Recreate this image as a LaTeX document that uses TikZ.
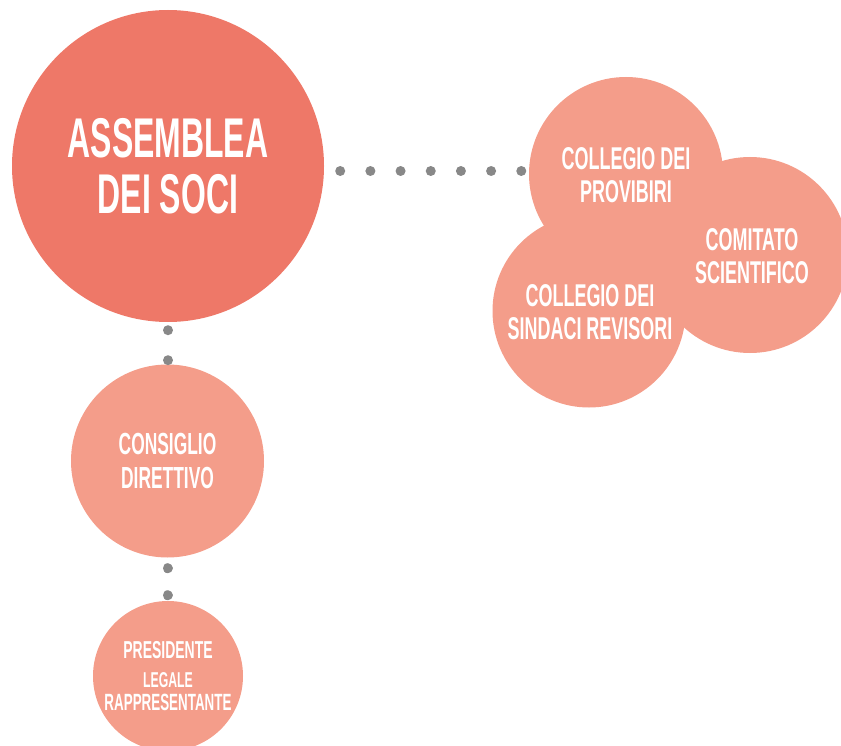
\documentclass[tikz,border=0pt]{standalone}
\usepackage{fontspec}
\newfontfamily\bebas[FakeStretch=0.57]{Liberation Sans}
\definecolor{main}{HTML}{EE7868}
\definecolor{light}{HTML}{F49D8A}
\definecolor{dotgray}{HTML}{888888}
\tikzset{
  bubble/.style={circle, fill=light, draw=none, inner sep=0pt, align=center, text=white, font=\bebas\bfseries},
  bigbubble/.style={bubble, fill=main},
  label/.style={text=white, align=center, inner sep=0pt},
  dotline/.style={draw=dotgray, line width=10pt, line cap=round, dash pattern=on 0.01pt off #1},
}
\begin{document}
\begin{tikzpicture}[x=1pt, y=-1pt]
\useasboundingbox (0,0) rectangle (841,746);
% circles
\node[bigbubble, minimum size=312pt, font=\bebas\bfseries\fontsize{56}{56}\selectfont] (A) at (168,166) {ASSEMBLEA\\DEI SOCI};
\node[bubble, minimum size=194pt] (P) at (626,174) {};
\node[bubble, minimum size=196pt] (S) at (750,255) {};
\node[bubble, minimum size=193pt] (R) at (589,311) {};
\node[label, font=\bebas\bfseries\fontsize{31.5}{33}\selectfont] (Pt) at (626,175) {COLLEGIO DEI\\PROVIBIRI};
\node[label, font=\bebas\bfseries\fontsize{31.5}{33}\selectfont] (St) at (752,256) {COMITATO\\SCIENTIFICO};
\node[label, font=\bebas\bfseries\fontsize{31.5}{33}\selectfont] (Rt) at (590,312) {COLLEGIO DEI\\SINDACI REVISORI};
\node[bubble, minimum size=193pt, font=\bebas\bfseries\fontsize{30.5}{34}\selectfont] (C) at (167.5,461) {CONSIGLIO\\DIRETTIVO};
\node[bubble, minimum size=150pt, font=\bebas\bfseries\fontsize{24.5}{29}\selectfont] (L) at (168,676)
  {PRESIDENTE\\{\fontsize{21.5}{29}\selectfont LEGALE}\\[-6pt]{\fontsize{23.5}{23}\selectfont RAPPRESENTANTE}};
% dotted connectors
\draw[dotline=30.17pt] (A.east) ++(16,5) -- ++(181.5,0);
\draw[dotline=30pt] (A.south) ++(0,8) -- ++(0,30.5);
\draw[dotline=27pt] (C.south) ++(0,10.5) -- ++(0,27.5);
\end{tikzpicture}
\end{document}
